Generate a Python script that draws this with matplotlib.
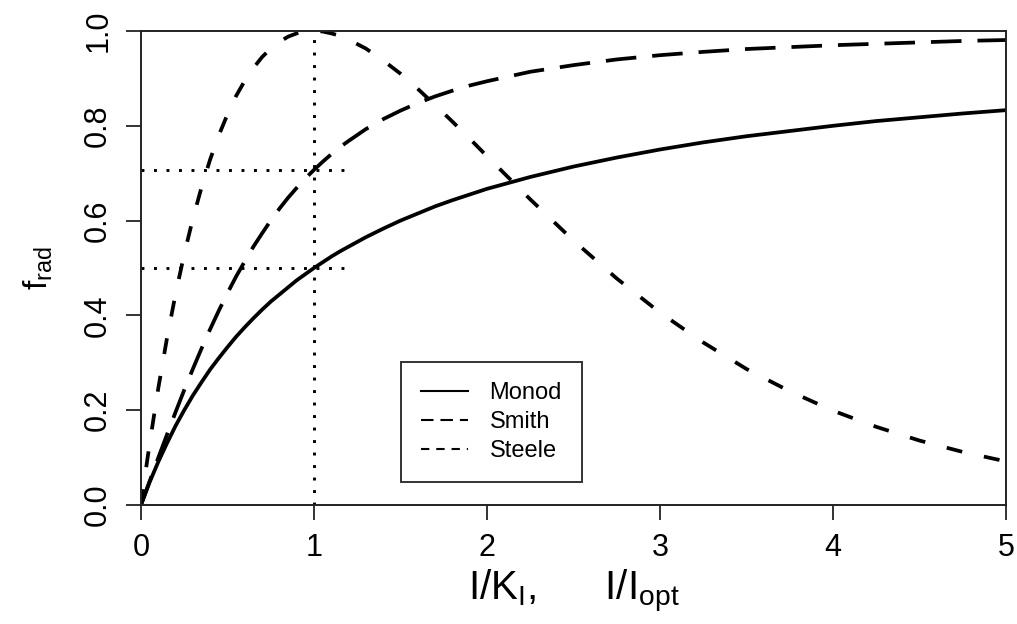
import matplotlib
matplotlib.use("Agg")
import matplotlib.pyplot as plt

plt.rcParams['font.family'] = ['Liberation Sans', 'DejaVu Sans']
plt.rcParams['mathtext.default'] = 'regular'
plt.rcParams['lines.scale_dashes'] = False

# values
x = [0, 0.025, 0.05, 0.1, 0.15, 0.2, 0.25, 0.3, 0.35, 0.4, 0.45, 0.5, 0.55,
     0.6, 0.65, 0.7, 0.75, 0.8, 0.85, 0.9, 0.95, 1.0, 1.05, 1.1, 1.15, 1.2,
     1.3, 1.4, 1.5, 1.6, 1.7, 1.8, 1.9, 2.0, 2.25, 2.5, 2.75, 3.0, 3.25,
     3.5, 3.75, 4.0, 4.25, 4.5, 4.75, 5.0]
monod = [0, 0.024, 0.048, 0.091, 0.130, 0.167, 0.200, 0.231, 0.259, 0.286,
         0.310, 0.333, 0.355, 0.375, 0.394, 0.412, 0.429, 0.444, 0.459,
         0.474, 0.487, 0.500, 0.512, 0.524, 0.535, 0.545, 0.565, 0.583,
         0.600, 0.615, 0.630, 0.643, 0.655, 0.667, 0.692, 0.714, 0.733,
         0.750, 0.765, 0.778, 0.789, 0.800, 0.810, 0.818, 0.826, 0.833]
smith = [0, 0.025, 0.050, 0.0995, 0.148, 0.196, 0.2425, 0.287, 0.330, 0.371,
         0.410, 0.447, 0.482, 0.514, 0.545, 0.573, 0.600, 0.625, 0.648,
         0.669, 0.689, 0.707, 0.724, 0.740, 0.755, 0.768, 0.793, 0.814,
         0.832, 0.848, 0.862, 0.874, 0.885, 0.894, 0.914, 0.928, 0.940,
         0.949, 0.956, 0.962, 0.966, 0.970, 0.973, 0.976, 0.979, 0.981]
steele = [0, 0.066, 0.129, 0.246, 0.351, 0.445, 0.529, 0.604, 0.670, 0.729,
          0.780, 0.824, 0.863, 0.895, 0.922, 0.945, 0.963, 0.977, 0.988,
          0.995, 0.999, 1.000, 0.999, 0.995, 0.990, 0.982, 0.963, 0.938,
          0.910, 0.878, 0.844, 0.809, 0.773, 0.736, 0.645, 0.558, 0.478,
          0.406, 0.343, 0.287, 0.240, 0.199, 0.165, 0.136, 0.112, 0.092]

ref_x = 1.0
ref_levels = [0.5, 0.707]
xticks = [0, 1, 2, 3, 4, 5]
yticks = [0.0, 0.2, 0.4, 0.6, 0.8, 1.0]

fig = plt.figure(figsize=(10.17, 6.24), dpi=100)
ax = fig.add_axes([0.1386, 0.1907, 0.8505, 0.7596])

ax.plot(x, monod, color='black', lw=2.7, label='Monod')
ax.plot(x, smith, color='black', lw=2.7, dashes=(22, 11.5), label='Smith')
ax.plot(x, steele, color='black', lw=2.7, dashes=(11.5, 16), label='Steele')

# dotted guides
ax.plot([ref_x, ref_x], [0, 1], color='black', lw=2.1, dashes=(2.1, 6.9))
for lev in ref_levels:
    ax.plot([0, 1.2], [lev, lev], color='black', lw=2.1, dashes=(2.1, 6.9))

ax.set_xlim(0, 5)
ax.set_ylim(0, 1)
ax.set_xticks(xticks)
ax.set_yticks(yticks)
ax.set_xticklabels([str(t) for t in xticks], fontsize=22)
ax.set_yticklabels(['%.1f' % t for t in yticks], fontsize=22,
                   rotation=90, va='center')
ax.tick_params(direction='out', length=11, width=1.4, color='#333333')
ax.tick_params(axis='x', pad=9)
ax.tick_params(axis='y', pad=9)
for s in ax.spines.values():
    s.set_linewidth(1.4)
    s.set_color('#222222')

ax.set_xlabel('I/K$_{I}$,      I/I$_{opt}$', fontsize=29, labelpad=4)
ax.set_ylabel('f$_{rad}$', fontsize=24, labelpad=20)

leg = ax.legend(loc='lower left', bbox_to_anchor=(0.3006, 0.0485),
                borderaxespad=0, fancybox=False, edgecolor='black',
                fontsize=17, handlelength=2.0, borderpad=0.85,
                labelspacing=0.3, handletextpad=0.9)
leg.get_frame().set_linewidth(1.4)
for line in leg.get_lines():
    line.set_linewidth(1.5)
leg.get_lines()[1].set_dashes((9, 5))
leg.get_lines()[2].set_dashes((6, 5))

fig.savefig('out.png', dpi=100)
